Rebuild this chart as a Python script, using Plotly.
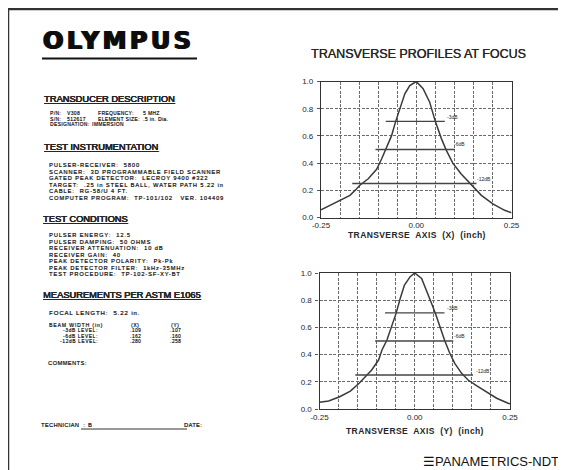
import plotly.graph_objects as go

W, H = 566, 470          # reference picture size
OFF = 8                   # page body margin offset of the figure inside the window
FW, FH = W - OFF, H - OFF  # figure size so it fits the window exactly

# ---------------- data ----------------
# transverse profile along X (top chart)
prof_x_pos = [-0.25, -0.226, -0.198, -0.174, -0.157, -0.148, -0.126, -0.104, -0.091, -0.080,
              -0.065, -0.054, -0.041, -0.030, -0.017, 0.0, 0.018, 0.035, 0.050, 0.066,
              0.079, 0.096, 0.118, 0.145, 0.171, 0.201, 0.232, 0.25]
prof_x_amp = [0.057, 0.09, 0.126, 0.163, 0.21, 0.237, 0.285, 0.354, 0.43, 0.50,
              0.60, 0.707, 0.81, 0.91, 0.97, 1.0, 0.947, 0.85, 0.707, 0.58,
              0.494, 0.40, 0.32, 0.237, 0.163, 0.10, 0.053, 0.035]
# transverse profile along Y (bottom chart)
prof_y_pos = [-0.25, -0.226, -0.197, -0.169, -0.146, -0.130, -0.113, -0.095, -0.086, -0.073,
              -0.060, -0.049, -0.038, -0.027, -0.012, 0.0, 0.018, 0.031, 0.044, 0.055,
              0.066, 0.079, 0.092, 0.105, 0.123, 0.140, 0.162, 0.188, 0.215, 0.245, 0.25]
prof_y_amp = [0.049, 0.059, 0.09, 0.132, 0.189, 0.238, 0.287, 0.36, 0.434, 0.507,
              0.605, 0.703, 0.814, 0.912, 0.973, 1.0, 0.96, 0.875, 0.777, 0.696,
              0.605, 0.50, 0.41, 0.336, 0.262, 0.213, 0.171, 0.127, 0.079, 0.042, 0.038]

level_names = ["-3dB", "-6dB", "-12dB"]
level_values = [0.707, 0.5, 0.25]
lvl_x_start = [-0.080, -0.107, -0.168]
lvl_x_end = [0.075, 0.101, 0.158]
lvl_y_start = [-0.078, -0.104, -0.156]
lvl_y_end = [0.078, 0.101, 0.153]
lbl_x_pos = [0.094, 0.114, 0.179]
lbl_x_amp = [0.741, 0.543, 0.281]
lbl_y_pos = [0.099, 0.117, 0.179]
lbl_y_amp = [0.745, 0.537, 0.279]

y_tick_vals = [0.0, 0.2, 0.4, 0.6, 0.8, 1.0]
y_tick_text = ["0.0", "0.2", "0.4", "0.6", "0.8", "1.0"]
x_grid_vals = [-0.25, -0.20, -0.15, -0.10, -0.05, 0.0, 0.05, 0.10, 0.15, 0.20, 0.25]
x_grid_text = ["-0.25", "", "", "", "", "0.00", "", "", "", "", "0.25"]

beam_levels = ["-3dB LEVEL:", "-6dB LEVEL:", "-12dB LEVEL:"]
beam_x = [".109", ".162", ".280"]
beam_y = [".107", ".160", ".258"]

instr_lines = ["PULSER-RECEIVER:  5800",
               "SCANNER:  3D PROGRAMMABLE FIELD SCANNER",
               "GATED PEAK DETECTOR:  LECROY 9400 #322",
               "TARGET:  .25 in STEEL BALL, WATER PATH 5.22 in",
               "CABLE:  RG-58/U 4 FT.",
               "COMPUTER PROGRAM:  TP-101/102   VER. 104409"]
cond_lines = ["PULSER ENERGY:  12.5",
              "PULSER DAMPING:  50 OHMS",
              "RECEIVER ATTENUATION:  10 dB",
              "RECEIVER GAIN:  40",
              "PEAK DETECTOR POLARITY:  Pk-Pk",
              "PEAK DETECTOR FILTER:  1kHz-35MHz",
              "TEST PROCEDURE:  TP-102-SF-XY-BT"]

FONT = "Liberation Sans"
INK = "#262626"
HEAVY = "0.35px 0 0 #262626"


def px(x):
    return (x - OFF) / FW


def py(y):
    return 1 - (y - OFF) / FH


fig = go.Figure()

# curves
fig.add_trace(go.Scatter(x=prof_x_pos, y=prof_x_amp, mode="lines",
                         line=dict(color="#3a3a3a", width=1.5), xaxis="x", yaxis="y"))
fig.add_trace(go.Scatter(x=prof_y_pos, y=prof_y_amp, mode="lines",
                         line=dict(color="#3a3a3a", width=1.5), xaxis="x2", yaxis="y2"))

# level lines
for i in range(3):
    fig.add_trace(go.Scatter(x=[lvl_x_start[i], lvl_x_end[i]], y=[level_values[i]] * 2,
                             mode="lines", line=dict(color="#444", width=1.4),
                             xaxis="x", yaxis="y"))
    fig.add_trace(go.Scatter(x=[lvl_y_start[i], lvl_y_end[i]], y=[level_values[i]] * 2,
                             mode="lines", line=dict(color="#444", width=1.4),
                             xaxis="x2", yaxis="y2"))

ann = []
for i in range(3):
    ann.append(dict(x=lbl_x_pos[i], y=lbl_x_amp[i], xref="x", yref="y", text=level_names[i],
                    showarrow=False, font=dict(family=FONT, size=5, color=INK)))
    ann.append(dict(x=lbl_y_pos[i], y=lbl_y_amp[i], xref="x2", yref="y2", text=level_names[i],
                    showarrow=False, font=dict(family=FONT, size=5, color=INK)))


def txt(x, y, s, size=5.6, anchor="left", family=FONT, bold=False, under=False,
        color=INK, shadow=HEAVY, ls=None):
    f = dict(family=family, size=size, color=color)
    if under:
        f["lineposition"] = "under"
    if shadow:
        f["shadow"] = shadow
    t = ("<b>%s</b>" % s) if bold else s
    if ls:
        t = '<span style="letter-spacing:%.2fpx">%s</span>' % (ls, t)
    ann.append(dict(x=px(x), y=py(y), xref="paper", yref="paper",
                    text=t, showarrow=False, borderpad=0,
                    xanchor=anchor, yanchor="middle", font=f))


# OLYMPUS logo
txt(42, 40.5, "OLYMPUS", size=24, family="DejaVu Sans", bold=True, color="#0d0d0d",
    shadow="0.9px 0 0 #111, -0.9px 0 0 #111", ls=3.4)

# headings
txt(43, 98.5, "TRANSDUCER DESCRIPTION", size=9.3, under=True)
txt(43, 147, "TEST INSTRUMENTATION", size=9.3, under=True)
txt(42, 218.5, "TEST CONDITIONS", size=9.3, under=True)
txt(42, 295, "MEASUREMENTS PER ASTM E1065", size=9.3, under=True)

# transducer description
TS, TL = 4.8, 0.45
txt(49, 113.5, "P/N:", size=TS, ls=TL)
txt(66, 113.5, "V308", size=TS, ls=TL)
txt(97, 113.5, "FREQUENCY:", size=TS, ls=TL)
txt(142, 113.5, "5 MHZ", size=TS, ls=TL)
txt(49, 119, "S/N:", size=TS, ls=TL)
txt(66, 119, "512617", size=TS, ls=TL)
txt(97, 119, "ELEMENT SIZE:", size=TS, ls=TL)
txt(142, 119, ".5 in. Dia.", size=TS, ls=TL)
txt(49, 124.5, "DESIGNATION:", size=TS, ls=TL)
txt(91, 124.5, "IMMERSION", size=TS, ls=TL)

for k, s in enumerate(instr_lines):
    txt(48, 165 + 6.5 * k, s, ls=0.95)

for k, s in enumerate(cond_lines):
    txt(48, 235 + 6.5 * k, s, ls=0.95)

txt(48, 312.5, "FOCAL LENGTH:  5.22 in.", size=6, ls=0.9)
txt(48, 325, "BEAM WIDTH (in)", size=5, ls=0.9)
txt(135, 325, "(X)", anchor="center", size=5, ls=0.5)
txt(175, 325, "(Y)", anchor="center", size=5, ls=0.5)
for k in range(3):
    yy = 330.8 + 5.3 * k
    txt(99, yy, beam_levels[k], anchor="right", size=4.7, ls=0.7)
    txt(135, yy, beam_x[k], anchor="center", size=4.7, ls=0.5)
    txt(175, yy, beam_y[k], anchor="center", size=4.7, ls=0.5)
txt(47, 363, "COMMENTS:", size=5.6, ls=0.5)
txt(40, 425, "TECHNICIAN  :", size=5.6, ls=0.4)
txt(87, 424.5, "B", size=5.6)
txt(183, 425, "DATE:", size=5.6, ls=0.4)

# right side texts
txt(418, 54, "TRANSVERSE PROFILES AT FOCUS", size=12.5, anchor="center")
txt(417, 235, "TRANSVERSE  AXIS  (X)  (inch)", size=8.5, anchor="center", bold=True, ls=0.4,
    shadow=None)
txt(415, 431, "TRANSVERSE  AXIS  (Y)  (inch)", size=8.5, anchor="center", bold=True, ls=0.4,
    shadow=None)
txt(560, 461.5, "☰PANAMETRICS-NDT", size=13, anchor="right", color="#111", shadow=None)

shapes = [
    # page frame
    dict(type="rect", xref="paper", yref="paper", x0=px(8), x1=1.1, y0=-0.1, y1=py(9),
         line=dict(color="#333", width=2.5), layer="below"),
    # OLYMPUS underline
    dict(type="line", xref="paper", yref="paper", x0=px(42), x1=px(197), y0=py(58.5), y1=py(58.5),
         line=dict(color="#111", width=2.2)),
    # technician line
    dict(type="line", xref="paper", yref="paper", x0=px(81), x1=px(187), y0=py(429), y1=py(429),
         line=dict(color="#333", width=1)),
]

axis_common = dict(showline=True, mirror=True, linecolor="#333", linewidth=1.3,
                   showgrid=True, gridcolor="#6a6a6a", gridwidth=1, griddash="3px,1.5px",
                   zeroline=False, automargin=False,
                   tickfont=dict(family=FONT, size=8, color=INK))

xa = dict(axis_common, range=[-0.25, 0.25], tickmode="array", tickvals=x_grid_vals,
          ticktext=x_grid_text, ticks="")
ya = dict(axis_common, range=[0, 1], tickmode="array", tickvals=y_tick_vals,
          ticktext=y_tick_text, ticks="outside", ticklen=3, tickcolor="#555",
          ticklabelstandoff=2)

fig.update_layout(
    width=FW, height=FH, showlegend=False,
    margin=dict(l=0, r=0, t=0, b=0),
    paper_bgcolor="white", plot_bgcolor="white",
    xaxis=dict(xa, domain=[px(321), px(511.5)], anchor="y"),
    yaxis=dict(ya, domain=[py(217.5), py(81.5)], anchor="x"),
    xaxis2=dict(xa, domain=[px(319.5), px(510)], anchor="y2"),
    yaxis2=dict(ya, domain=[py(409), py(273)], anchor="x2"),
    annotations=ann, shapes=shapes,
)

fig.write_html("out.html")
